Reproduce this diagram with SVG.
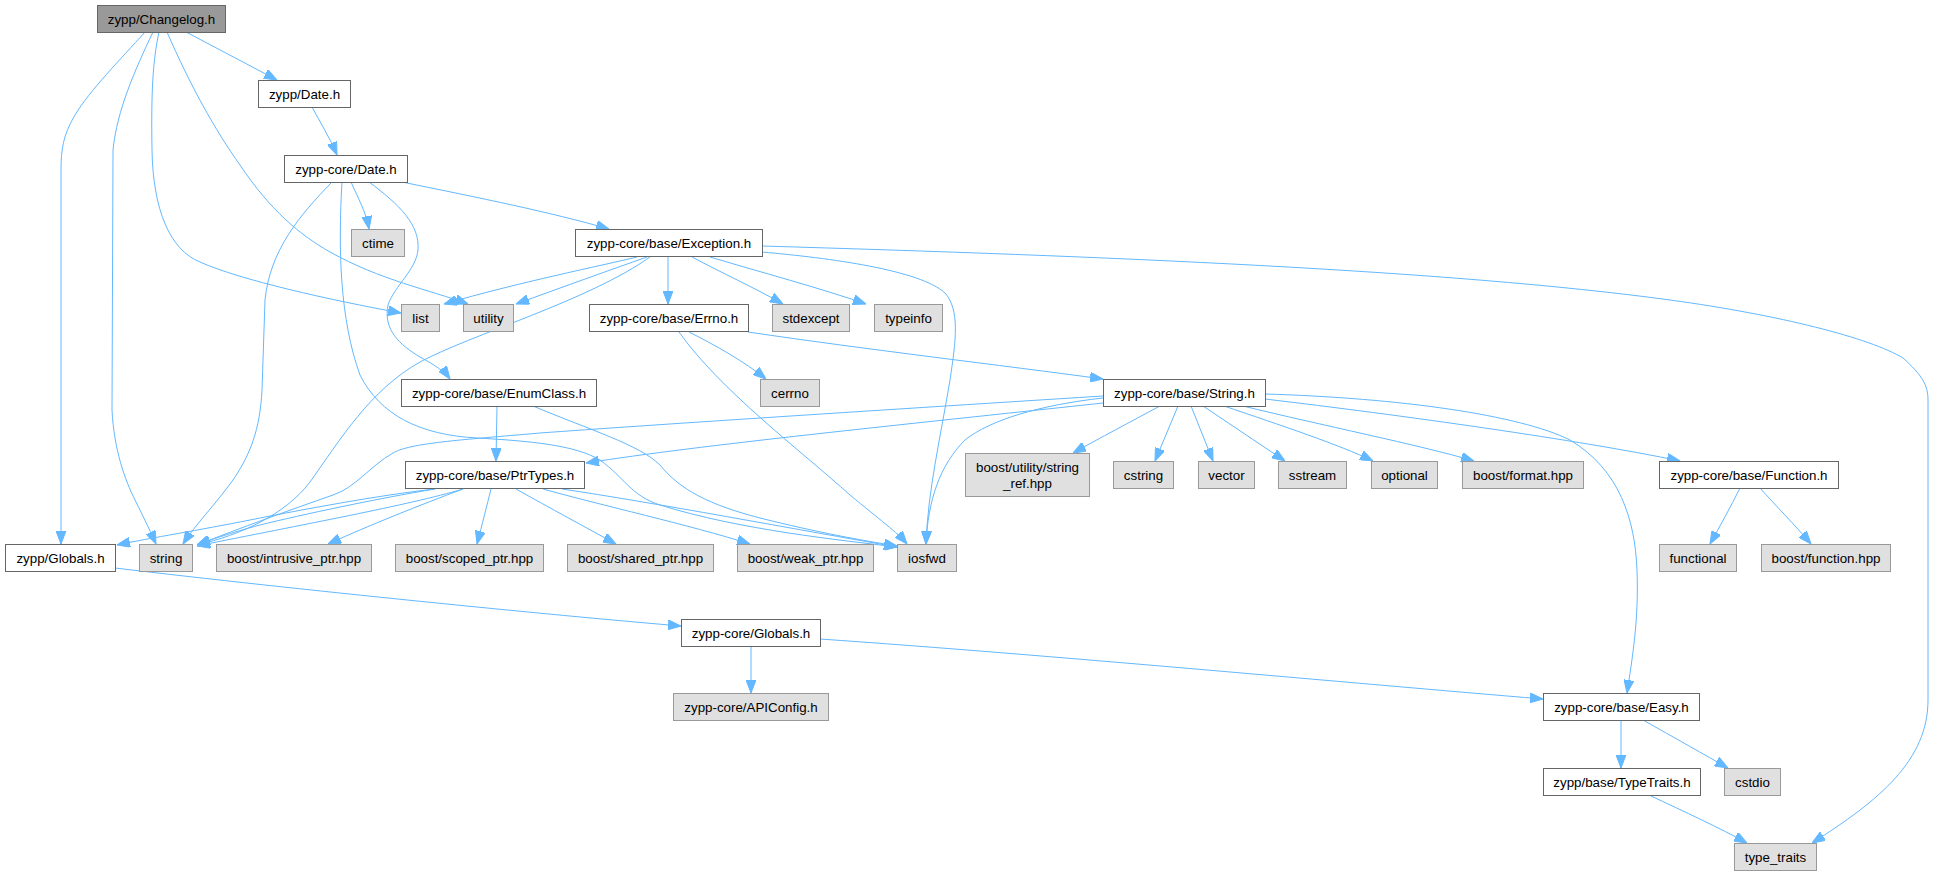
<svg xmlns="http://www.w3.org/2000/svg" width="1933" height="875" viewBox="0 0 1933 875">
<defs>
<style>
.doc rect{fill:#ffffff;stroke:#666666;stroke-width:1}
.ext rect{fill:#e0e0e0;stroke:#999999;stroke-width:1}
.root rect{fill:#999999;stroke:#666666;stroke-width:1}
text{font-family:"Liberation Sans",Arial,Helvetica,sans-serif;font-size:13.33px;fill:#000000;text-anchor:middle}
#edges path{fill:none;stroke:#63b8ff;stroke-width:1;marker-end:url(#arr)}
</style>
<marker id="arr" markerUnits="userSpaceOnUse" markerWidth="13" markerHeight="10" refX="13" refY="5" orient="auto">
<path d="M0,0 L13,5 L0,10 z" fill="#63b8ff" stroke="#63b8ff" stroke-width="1"/>
</marker>
</defs>
<rect x="0" y="0" width="1933" height="875" fill="#ffffff"/>
<g id="edges">
<path d="M186,32 L277,80"/>
<path d="M145,32 C120,60 90,90 75,115 C63,135 61,150 61,170 L61,544"/>
<path d="M153,32 C135,70 117,110 113,150 L112,410 C114,450 125,480 135,500 C145,520 152,535 156,544"/>
<path d="M159,32 C153,60 151,90 152,150 C153,210 170,250 200,262 C240,280 330,300 401,313"/>
<path d="M167,32 C190,85 215,130 240,165 C270,210 300,235 330,252 C380,280 430,290 468,304"/>
<path d="M312,107 C320,122 330,138 337,155"/>
<path d="M351,182 C358,198 366,212 369,229"/>
<path d="M402,182 C480,198 550,212 609,229"/>
<path d="M332,182 C300,215 270,250 265,300 L262,390 C260,430 250,455 233,480 C215,505 195,525 183,544"/>
<path d="M369,182 C400,205 420,225 418,250 C416,270 395,285 388,305 C383,330 400,345 420,357 C435,365 445,372 450,379"/>
<path d="M342,182 C338,250 340,320 360,375 C380,415 420,435 477,438 C530,441 575,445 600,460 C625,478 630,495 660,505 C740,530 840,540 897,547"/>
<path d="M497,406 L496,461"/>
<path d="M533,406 C590,430 640,445 660,465 C680,490 710,505 760,518 C820,533 860,540 897,546"/>
<path d="M637,257 C600,266 520,282 444,304"/>
<path d="M647,257 C610,270 560,288 516,304"/>
<path d="M650,257 C590,300 470,335 420,362 C370,390 340,440 310,482 C285,515 240,535 197,545"/>
<path d="M668,257 L668,304"/>
<path d="M692,257 C720,272 755,288 783,304"/>
<path d="M710,257 C760,272 820,288 866,304"/>
<path d="M762,252 C830,258 920,270 945,293 C960,310 956,340 950,380 C940,440 928,490 926,544"/>
<path d="M762,246 C1100,256 1450,270 1670,300 C1780,315 1870,338 1903,358 C1922,375 1928,385 1928,400 L1928,700 C1928,760 1880,800 1812,843"/>
<path d="M689,332 C715,345 745,362 766,379"/>
<path d="M679,332 C720,390 800,450 850,495 C880,520 897,532 907,544"/>
<path d="M748,332 C870,350 1000,365 1103,379"/>
<path d="M1103,396 C850,412 650,425 540,433 C460,440 410,443 393,453 C370,466 355,488 333,495 C290,510 240,528 197,545"/>
<path d="M1103,403 C900,425 700,445 586,463"/>
<path d="M1103,398 C1040,405 990,420 965,440 C940,465 928,500 926,544"/>
<path d="M1160,406 C1130,422 1100,438 1073,453"/>
<path d="M1178,406 L1155,461"/>
<path d="M1191,406 L1213,461"/>
<path d="M1203,406 L1285,461"/>
<path d="M1224,406 C1280,425 1340,445 1373,461"/>
<path d="M1243,406 C1320,425 1420,445 1474,461"/>
<path d="M1265,399 C1400,415 1580,440 1680,461"/>
<path d="M1265,394 C1400,398 1520,415 1570,440 C1620,470 1635,520 1637,570 C1639,620 1632,660 1627,693"/>
<path d="M435,489 C380,495 300,510 250,520 C200,530 150,538 117,545"/>
<path d="M435,489 C380,498 300,515 260,525 C230,533 210,540 197,545"/>
<path d="M463,489 C410,505 300,525 197,546"/>
<path d="M463,489 C420,505 370,525 328,544"/>
<path d="M491,489 C487,505 482,525 477,544"/>
<path d="M516,489 C550,508 585,527 616,544"/>
<path d="M543,489 C600,505 690,525 750,544"/>
<path d="M562,489 C650,502 800,530 897,547"/>
<path d="M1740,488 C1730,508 1720,526 1710,544"/>
<path d="M1760,488 C1775,505 1795,525 1811,544"/>
<path d="M115,568 C300,590 550,615 681,626"/>
<path d="M751,646 L751,693"/>
<path d="M820,639 C1050,655 1350,683 1543,699"/>
<path d="M1621,720 L1621,768"/>
<path d="M1643,720 C1675,738 1705,755 1728,768"/>
<path d="M1649,795 C1685,812 1720,828 1747,843"/>
</g>
<g id="n0" class="root"><rect x="97.5" y="5.5" width="128" height="27"/><text x="161.5" y="23.5">zypp/Changelog.h</text></g>
<g id="n1" class="doc"><rect x="258.5" y="80.5" width="92" height="27"/><text x="304.5" y="98.5">zypp/Date.h</text></g>
<g id="n2" class="doc"><rect x="284.5" y="155.5" width="123" height="27"/><text x="346" y="173.5">zypp-core/Date.h</text></g>
<g id="n3" class="ext"><rect x="351.5" y="229.5" width="53" height="27"/><text x="378" y="247.5">ctime</text></g>
<g id="n4" class="doc"><rect x="575.5" y="229.5" width="187" height="27"/><text x="669" y="247.5">zypp-core/base/Exception.h</text></g>
<g id="n5" class="ext"><rect x="401.5" y="304.5" width="38" height="27"/><text x="420.5" y="322.5">list</text></g>
<g id="n6" class="ext"><rect x="463.5" y="304.5" width="50" height="27"/><text x="488.5" y="322.5">utility</text></g>
<g id="n7" class="doc"><rect x="589.5" y="304.5" width="159" height="27"/><text x="669" y="322.5">zypp-core/base/Errno.h</text></g>
<g id="n8" class="ext"><rect x="772.5" y="304.5" width="77" height="27"/><text x="811" y="322.5">stdexcept</text></g>
<g id="n9" class="ext"><rect x="874.5" y="304.5" width="68" height="27"/><text x="908.5" y="322.5">typeinfo</text></g>
<g id="n10" class="doc"><rect x="401.5" y="379.5" width="195" height="27"/><text x="499" y="397.5">zypp-core/base/EnumClass.h</text></g>
<g id="n11" class="ext"><rect x="760.5" y="379.5" width="59" height="27"/><text x="790" y="397.5">cerrno</text></g>
<g id="n12" class="doc"><rect x="1103.5" y="379.5" width="162" height="27"/><text x="1184.5" y="397.5">zypp-core/base/String.h</text></g>
<g id="n13" class="doc"><rect x="405.5" y="461.5" width="179" height="27"/><text x="495" y="479.5">zypp-core/base/PtrTypes.h</text></g>
<g id="n14" class="ext"><rect x="965.5" y="453.5" width="124" height="43"/><text x="1027.5" y="471.5">boost/utility/string</text><text x="1027.5" y="487.5">_ref.hpp</text></g>
<g id="n15" class="ext"><rect x="1113.5" y="461.5" width="60" height="27"/><text x="1143.5" y="479.5">cstring</text></g>
<g id="n16" class="ext"><rect x="1198.5" y="461.5" width="56" height="27"/><text x="1226.5" y="479.5">vector</text></g>
<g id="n17" class="ext"><rect x="1278.5" y="461.5" width="68" height="27"/><text x="1312.5" y="479.5">sstream</text></g>
<g id="n18" class="ext"><rect x="1371.5" y="461.5" width="66" height="27"/><text x="1404.5" y="479.5">optional</text></g>
<g id="n19" class="ext"><rect x="1462.5" y="461.5" width="121" height="27"/><text x="1523" y="479.5">boost/format.hpp</text></g>
<g id="n20" class="doc"><rect x="1659.5" y="461.5" width="179" height="27"/><text x="1749" y="479.5">zypp-core/base/Function.h</text></g>
<g id="n21" class="doc"><rect x="5.5" y="544.5" width="110" height="27"/><text x="60.5" y="562.5">zypp/Globals.h</text></g>
<g id="n22" class="ext"><rect x="139.5" y="544.5" width="53" height="27"/><text x="166" y="562.5">string</text></g>
<g id="n23" class="ext"><rect x="216.5" y="544.5" width="155" height="27"/><text x="294" y="562.5">boost/intrusive_ptr.hpp</text></g>
<g id="n24" class="ext"><rect x="395.5" y="544.5" width="148" height="27"/><text x="469.5" y="562.5">boost/scoped_ptr.hpp</text></g>
<g id="n25" class="ext"><rect x="567.5" y="544.5" width="146" height="27"/><text x="640.5" y="562.5">boost/shared_ptr.hpp</text></g>
<g id="n26" class="ext"><rect x="737.5" y="544.5" width="136" height="27"/><text x="805.5" y="562.5">boost/weak_ptr.hpp</text></g>
<g id="n27" class="ext"><rect x="897.5" y="544.5" width="59" height="27"/><text x="927" y="562.5">iosfwd</text></g>
<g id="n28" class="ext"><rect x="1659.5" y="544.5" width="77" height="27"/><text x="1698" y="562.5">functional</text></g>
<g id="n29" class="ext"><rect x="1761.5" y="544.5" width="129" height="27"/><text x="1826" y="562.5">boost/function.hpp</text></g>
<g id="n30" class="doc"><rect x="681.5" y="619.5" width="139" height="27"/><text x="751" y="637.5">zypp-core/Globals.h</text></g>
<g id="n31" class="ext"><rect x="673.5" y="693.5" width="155" height="27"/><text x="751" y="711.5">zypp-core/APIConfig.h</text></g>
<g id="n32" class="doc"><rect x="1543.5" y="693.5" width="156" height="27"/><text x="1621.5" y="711.5">zypp-core/base/Easy.h</text></g>
<g id="n33" class="doc"><rect x="1543.5" y="768.5" width="157" height="27"/><text x="1622" y="786.5">zypp/base/TypeTraits.h</text></g>
<g id="n34" class="ext"><rect x="1724.5" y="768.5" width="56" height="27"/><text x="1752.5" y="786.5">cstdio</text></g>
<g id="n35" class="ext"><rect x="1734.5" y="843.5" width="82" height="27"/><text x="1775.5" y="861.5">type_traits</text></g>
</svg>
